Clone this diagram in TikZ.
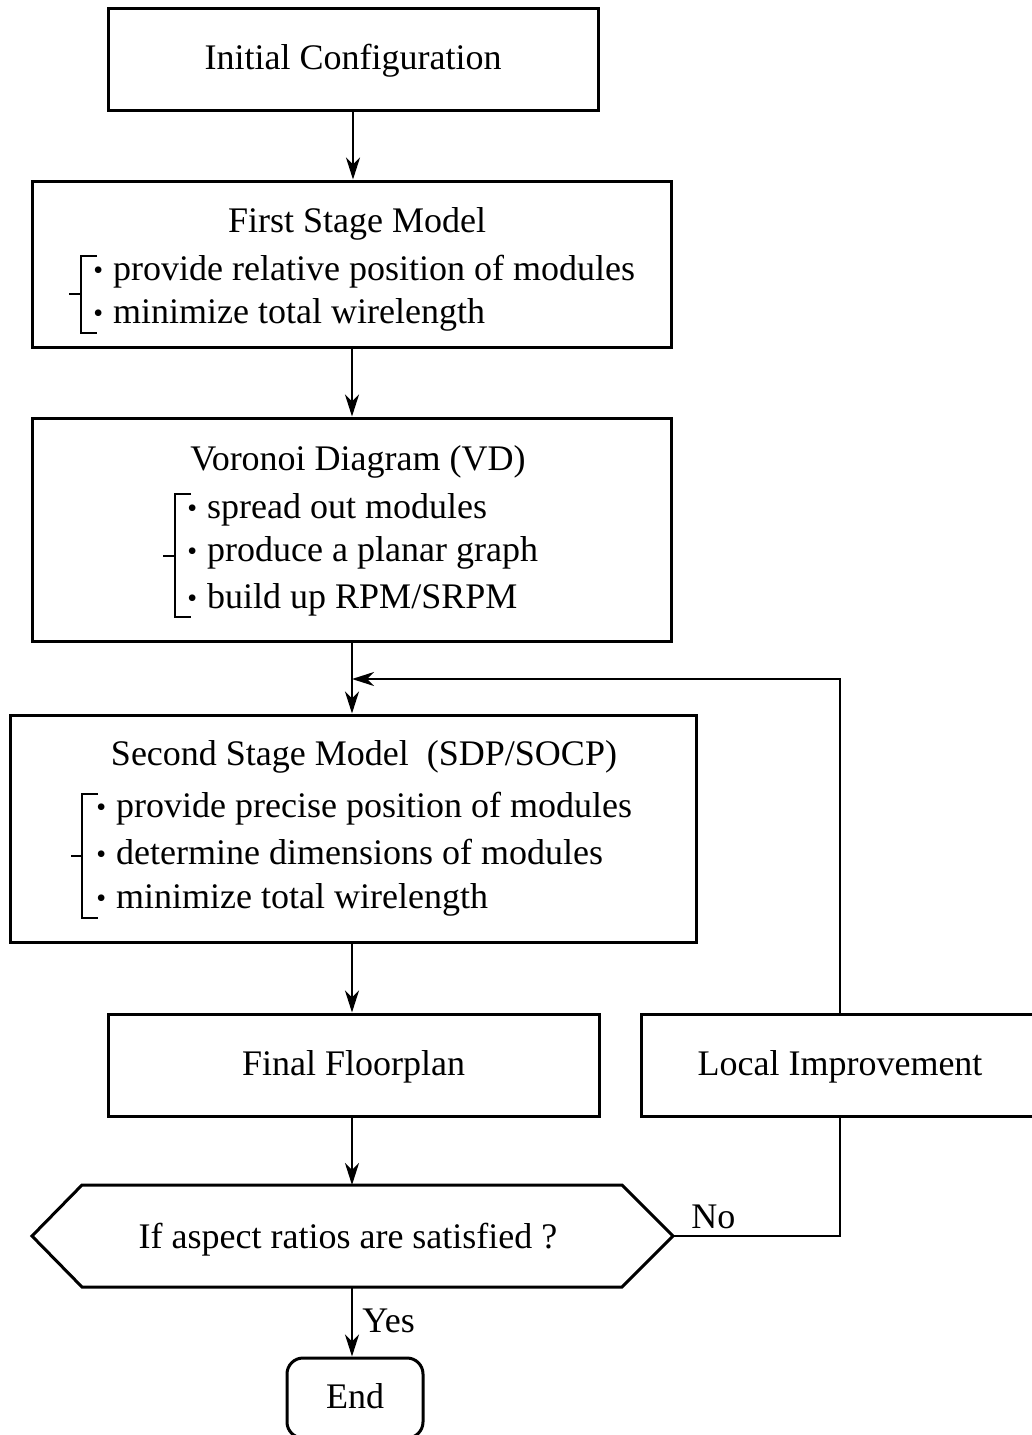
\documentclass[tikz,border=0pt]{standalone}
\usepackage{fontspec}
\setmainfont{Liberation Serif}
\usetikzlibrary{arrows.meta}
% small list bullet followed by a fixed gap
\newcommand{\itm}{{\fontsize{14pt}{14pt}\selectfont\raisebox{0.2pt}{•}}\hspace{5pt}}
\begin{document}
\begin{tikzpicture}[x=0.5pt,y=-0.5pt,
  every node/.style={font=\fontsize{18pt}{22pt}\selectfont},
  txt/.style={inner sep=0pt,text height=1.2em,text depth=0.18em},
  box/.style={draw,line width=1.5pt,txt},
  item/.style={txt,anchor=west},
  flow/.style={line width=1.2pt,-{Stealth[length=11pt,width=7pt,inset=3.5pt]}},
  link/.style={line width=1.2pt},
  brace/.style={line width=1pt},
]
\useasboundingbox (0,0) rectangle (1032,1435);

% process boxes
\node[box,minimum width=245pt,minimum height=51pt] (b1) at (353,59) {Initial Configuration};
\node[box,minimum width=319.5pt,minimum height=83pt] (b2) at (351.5,264) {};
\node[box,minimum width=319.5pt,minimum height=111.5pt] (b3) at (351.5,529.5) {};
\node[box,minimum width=343pt,minimum height=113.5pt] (b4) at (353,828.5) {};
\node[box,minimum width=245.5pt,minimum height=51pt] (b5) at (353.5,1065) {Final Floorplan};
\node[box,minimum width=199pt,minimum height=51pt] (b6) at (840,1065) {Local Improvement};

% first stage
\node[txt] (t2) at (357,222) {First Stage Model};
\node[item] (f1) at (93,270) {\itm provide relative position of modules};
\node[item] (f2) at (93,313) {\itm minimize total wirelength};
\draw[brace] (97,256) -- (81,256) -- (81,333) -- (97,333) (69,294) -- (81,294);

% voronoi diagram
\node[txt] (t3) at (358,460) {Voronoi Diagram (VD)};
\node[item] (v1) at (187,508) {\itm spread out modules};
\node[item] (v2) at (187,551) {\itm produce a planar graph};
\node[item] (v3) at (187,598) {\itm build up RPM/SRPM};
\draw[brace] (191,494) -- (175,494) -- (175,617) -- (191,617) (163,556) -- (175,556);

% second stage
\node[txt] (t4) at (364,755) {Second Stage Model\ \ (SDP/SOCP)};
\node[item] (s1) at (96,807) {\itm provide precise position of modules};
\node[item] (s2) at (96,854) {\itm determine dimensions of modules};
\node[item] (s3) at (96,898) {\itm minimize total wirelength};
\draw[brace] (98,794) -- (82,794) -- (82,918) -- (98,918) (71,856) -- (82,856);

% decision
\draw[line width=1.5pt] (82,1185) -- (622,1185) -- (673,1236) -- (622,1287)
  -- (82,1287) -- (32,1236) -- cycle;
\coordinate (decN) at (352,1185);
\coordinate (decS) at (352,1287);
\coordinate (decE) at (673,1236);
\node[txt] (dec) at (348,1238) {If aspect ratios are satisfied ?};

% terminal
\node[box,rounded corners=8pt,minimum width=68pt,minimum height=40pt] (end) at (355,1398) {End};

% connectors
\coordinate (join) at (352,679);
\draw[flow] (b1.south) -- (b1.south |- b2.north);
\draw[flow] (b2.south -| join) -- (b3.north -| join);
\draw[flow] (b3.south -| join) -- (b4.north -| join);
\draw[flow] (b6.north) |- (join);
\draw[flow] (b4.south -| join) -- (b5.north -| join);
\draw[flow] (b5.south -| join) -- (decN);
\draw[link] (decE) -| (b6.south);
\draw[flow] (decS) -- (decS |- end.north);
\node[txt,anchor=west] (no) at (691,1218) {No};
\node[txt,anchor=west] (yes) at (362,1322) {Yes};
\end{tikzpicture}
\end{document}
